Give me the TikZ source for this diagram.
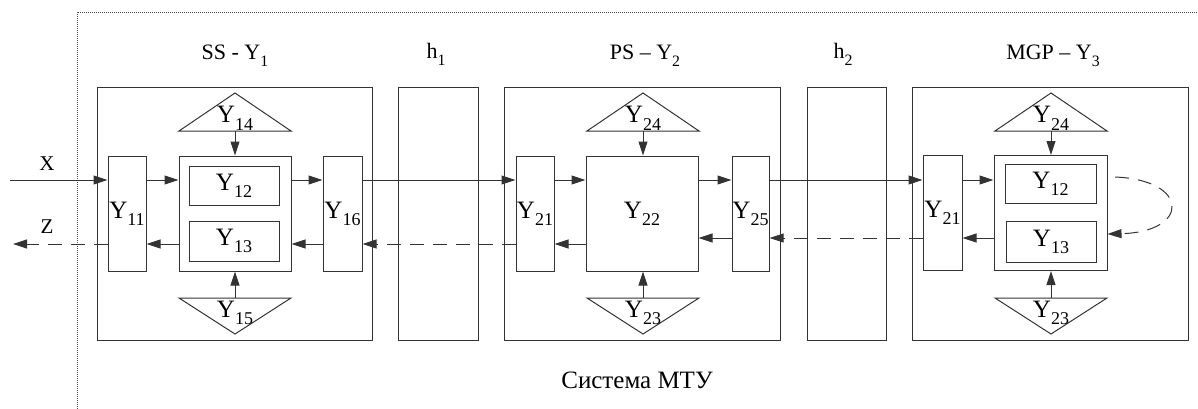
\documentclass[tikz,border=0pt]{standalone}
\usepackage{fontspec}
\setmainfont{Liberation Serif}
\usepackage{graphicx}
\usetikzlibrary{arrows.meta}
\newcommand{\sub}[2]{#1\raisebox{-0.28em}{\scalebox{0.72}{#2}}}

\begin{document}
\begin{tikzpicture}[x=1pt, y=-1pt, line width=1pt,
    unit/.style={draw=black!80, minimum width=276pt, minimum height=252pt},
    blk/.style={draw=black!80, minimum width=#1, minimum height=115pt, inner sep=0pt,
        font=\fontsize{25}{30}\selectfont},
    arr/.style={draw=black!80, -{Triangle[length=14pt,width=9pt]}},
    back/.style={arr, dash pattern=on 14pt off 9pt},
    lbl/.style={font=\fontsize{22}{26}\selectfont, anchor=base},
    big/.style={font=\fontsize{25}{30}\selectfont, anchor=base}]
    \useasboundingbox (0,0) rectangle (1198,409);
    % System frame
    \draw[black!70, line width=0.7pt, dash pattern=on 1pt off 1pt] (77,409) -- (77,12) -- (1198,12);
    % Units and channels
    \node[unit, minimum width=275pt] (U1) at (234.5,214) {};
    \node[unit, minimum width=80pt] (H1) at (438,214) {};
    \node[unit] (U2) at (642,214) {};
    \node[unit, minimum width=79pt] (H2) at (846.5,214) {};
    \node[unit] (U3) at (1050,214) {};
    % Titles
    \node[lbl] (L1) at (235,60) {SS - \sub{Y}{1}};
    \node[lbl] (Lh1) at (436,59) {\sub{h}{1}};
    \node[lbl] (L2) at (645,60) {PS – \sub{Y}{2}};
    \node[lbl] (Lh2) at (843,59) {\sub{h}{2}};
    \node[lbl] (L3) at (1053,60) {MGP – \sub{Y}{3}};
    \node[big, anchor=base] (Sys) at (637,388) {Система МТУ};
    % Block SS
    \node[blk=38pt] (In1) at (127,213.5) {\sub{Y}{11}};
    \node[blk=112pt] (Core1) at (235,213.5) {};
    \node[blk=90pt, minimum height=39pt] (Y12a) at (234,185.5) {\sub{Y}{12}};
    \node[blk=90pt, minimum height=40pt] (Y13a) at (234,241) {\sub{Y}{13}};
    \node[blk=39pt] (Out1) at (342.5,213.5) {\sub{Y}{16}};
    % Block PS
    \node[blk=38pt] (In2) at (535,213.5) {\sub{Y}{21}};
    \node[blk=112pt] (Core2) at (642,213.5) {\sub{Y}{22}};
    \node[blk=37pt] (Out2) at (750.5,213.5) {\sub{Y}{25}};
    % Block MGP
    \node[blk=39pt] (In3) at (942.5,213) {\sub{Y}{21}};
    \node[blk=113pt] (Core3) at (1050.5,213) {};
    \node[blk=91pt, minimum height=39pt] (Y12c) at (1050.5,184) {\sub{Y}{12}};
    \node[blk=90pt, minimum height=41pt] (Y13c) at (1051,241.5) {\sub{Y}{13}};
    % Triangles above and below
    \foreach \cx/\t/\b [count=\k] in {235/14/15, 643/24/23, 1051/24/23} {
        \draw[black!80] (\cx-56,131) -- (\cx,93) -- (\cx+56,131) -- cycle;
        \draw[black!80] (\cx-56,298) -- (\cx,334) -- (\cx+56,298) -- cycle;
        \node[big] (Tt\k) at (\cx,123) {\sub{Y}{\t}};
        \node[big] (Tb\k) at (\cx,317) {\sub{Y}{\b}};
        \coordinate (T\k) at (\cx,131);
        \coordinate (B\k) at (\cx,298);
    }
    \draw[arr] (T1) -- (T1 |- Core1.north);
    \draw[arr] (B1) -- (B1 |- Core1.south);
    \draw[arr] (T2) -- (T2 |- Core2.north);
    \draw[arr] (B2) -- (B2 |- Core2.south);
    \draw[arr] (T3) -- (T3 |- Core3.north);
    \draw[arr] (B3) -- (B3 |- Core3.south);
    % Signal lines
    \coordinate (fwd) at (0,180);
    \coordinate (bck) at (0,244);
    \coordinate (ret) at (0,238);
    \coordinate (xin) at (10,180);
    \coordinate (zout) at (13,244);
    \node[lbl, font=\fontsize{21}{25}\selectfont] (X) at (47,170) {X};
    \node[lbl, font=\fontsize{21}{25}\selectfont] (Z) at (47,233) {Z};
    \draw[arr] (xin) -- (In1.west |- fwd);
    \foreach \a/\b in {In1/Core1, Core1/Out1, Out1/In2, In2/Core2, Core2/Out2, Out2/In3, In3/Core3}
        \draw[arr] (\a.east |- fwd) -- (\b.west |- fwd);
    \draw[arr] (Core1.west |- bck) -- (In1.east |- bck);
    \draw[arr] (Out1.west |- bck) -- (Core1.east |- bck);
    \draw[back] (In2.west |- bck) -- (Out1.east |- bck);
    \draw[arr] (Core2.west |- bck) -- (In2.east |- bck);
    \draw[arr] (Out2.west |- ret) -- (Core2.east |- ret);
    \draw[back] (In3.west |- ret) -- (Out2.east |- ret);
    \draw[arr] (Core3.west |- ret) -- (In3.east |- ret);
    \draw[back] (In1.west |- bck) -- (zout);
    % Feedback loop
    \coordinate (loopA) at (1115,177);
    \draw[back] (loopA) .. controls (1190,180) and (1190,232) .. (Core3.east |- 0,234);
\end{tikzpicture}
\end{document}
